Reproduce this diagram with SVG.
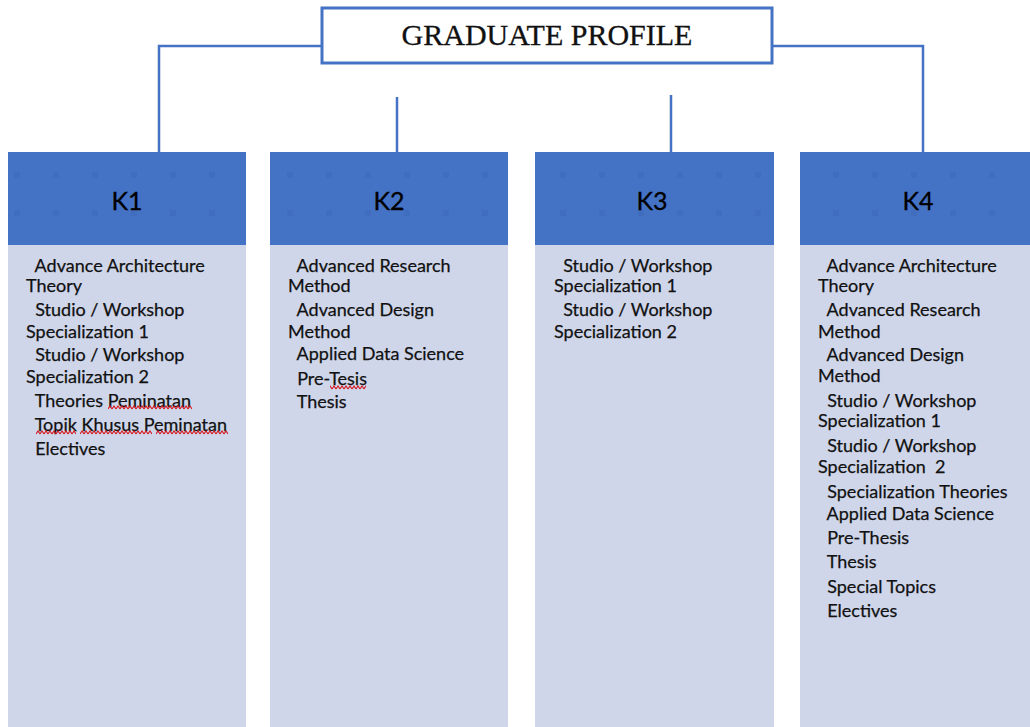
<svg xmlns="http://www.w3.org/2000/svg" width="1030" height="727" viewBox="0 0 1030 727">
  <style>
    .hdr { fill: #4472C4; }
    .body { fill: #CFD6EA; }
    .dots { fill: url(#dotgrid); }
    .wire { fill: none; stroke: #4472C4; stroke-width: 2.5; }
    .title-box { fill: #FFFFFF; stroke: #4472C4; stroke-width: 3; }
    .title { font-family: "Liberation Serif", "Times New Roman", serif; font-size: 30px; fill: #111111; text-anchor: middle; stroke: #111111; stroke-width: 0.3; }
    .key { font-family: Lato, "Open Sans", sans-serif; font-size: 25px; fill: #000000; text-anchor: middle; stroke: #000000; stroke-width: 0.3; }
    .item { font-family: Lato, "Open Sans", sans-serif; font-size: 18px; fill: #111111; stroke: #111111; stroke-width: 0.25; white-space: pre; }
    .squiggle { fill: url(#wave); }
  </style>
  <defs>
    <!-- faint square grid texture on the column headers -->
    <pattern id="dotgrid" patternUnits="userSpaceOnUse" x="14" y="172" width="39" height="38">
      <rect x="0" y="0" width="6" height="6" fill="#3B66B4" opacity="0.45"/>
    </pattern>
    <!-- wavy spell-check underline tile -->
    <pattern id="wave" patternUnits="userSpaceOnUse" x="0" y="0" width="4" height="5">
      <path d="M0 4 L2 1 L4 4" fill="none" stroke="#D8141B" stroke-width="1.1"/>
    </pattern>
  </defs>

  <!-- connectors -->
  <g id="connectors">
    <polyline class="wire" points="322,46 159,46 159,152"/>
    <polyline class="wire" points="772,46 923,46 923,152"/>
    <line class="wire" x1="397" y1="97" x2="397" y2="152"/>
    <line class="wire" x1="671" y1="95" x2="671" y2="152"/>
  </g>

  <!-- top node -->
  <g id="graduate-profile">
    <rect class="title-box" x="322" y="8" width="450" height="55"/>
    <text class="title" x="547" y="45">GRADUATE PROFILE</text>
  </g>

  <!-- K1 -->
  <g id="k1">
    <rect class="body" x="8" y="245" width="238" height="482"/>
    <rect class="hdr" x="8" y="152" width="238" height="93"/>
    <rect class="dots" x="10" y="165" width="234" height="60"/>
    <text class="key" x="127" y="210">K1</text>
    <text class="item" x="26" y="272">  Advance Architecture</text>
    <text class="item" x="26" y="292">Theory</text>
    <text class="item" x="26" y="316">  Studio / Workshop</text>
    <text class="item" x="26" y="338">Specialization 1</text>
    <text class="item" x="26" y="361">  Studio / Workshop</text>
    <text class="item" x="26" y="383">Specialization 2</text>
    <text class="item" x="26" y="407">  Theories Peminatan</text>
    <text class="item" x="26" y="431">  Topik Khusus Peminatan</text>
    <text class="item" x="26" y="455">  Electives</text>
    <rect class="squiggle" x="108" y="405" width="84" height="5"/>
    <rect class="squiggle" x="36" y="430" width="40" height="5"/>
    <rect class="squiggle" x="80" y="430" width="72" height="5"/>
    <rect class="squiggle" x="156" y="430" width="72" height="5"/>
  </g>

  <!-- K2 -->
  <g id="k2">
    <rect class="body" x="270" y="245" width="238" height="482"/>
    <rect class="hdr" x="270" y="152" width="238" height="93"/>
    <rect class="dots" x="272" y="165" width="234" height="60"/>
    <text class="key" x="389" y="210">K2</text>
    <text class="item" x="288" y="272">  Advanced Research</text>
    <text class="item" x="288" y="292">Method</text>
    <text class="item" x="288" y="316">  Advanced Design</text>
    <text class="item" x="288" y="338">Method</text>
    <text class="item" x="288" y="360">  Applied Data Science</text>
    <text class="item" x="288" y="385">  Pre-Tesis</text>
    <text class="item" x="288" y="408">  Thesis</text>
    <rect class="squiggle" x="330" y="385" width="36" height="5"/>
  </g>

  <!-- K3 -->
  <g id="k3">
    <rect class="body" x="535" y="245" width="239" height="482"/>
    <rect class="hdr" x="535" y="152" width="239" height="93"/>
    <rect class="dots" x="537" y="165" width="235" height="60"/>
    <text class="key" x="652" y="210">K3</text>
    <text class="item" x="554" y="272">  Studio / Workshop</text>
    <text class="item" x="554" y="292">Specialization 1</text>
    <text class="item" x="554" y="316">  Studio / Workshop</text>
    <text class="item" x="554" y="338">Specialization 2</text>
  </g>

  <!-- K4 -->
  <g id="k4">
    <rect class="body" x="800" y="245" width="230" height="482"/>
    <rect class="hdr" x="800" y="152" width="230" height="93"/>
    <rect class="dots" x="802" y="165" width="226" height="60"/>
    <text class="key" x="918" y="210">K4</text>
    <text class="item" x="818" y="272">  Advance Architecture</text>
    <text class="item" x="818" y="292">Theory</text>
    <text class="item" x="818" y="316">  Advanced Research</text>
    <text class="item" x="818" y="338">Method</text>
    <text class="item" x="818" y="361">  Advanced Design</text>
    <text class="item" x="818" y="382">Method</text>
    <text class="item" x="818" y="407">  Studio / Workshop</text>
    <text class="item" x="818" y="427">Specialization 1</text>
    <text class="item" x="818" y="452">  Studio / Workshop</text>
    <text class="item" x="818" y="473">Specialization  2</text>
    <text class="item" x="818" y="498">  Specialization Theories</text>
    <text class="item" x="818" y="520">  Applied Data Science</text>
    <text class="item" x="818" y="544">  Pre-Thesis</text>
    <text class="item" x="818" y="568">  Thesis</text>
    <text class="item" x="818" y="593">  Special Topics</text>
    <text class="item" x="818" y="617">  Electives</text>
  </g>
</svg>
